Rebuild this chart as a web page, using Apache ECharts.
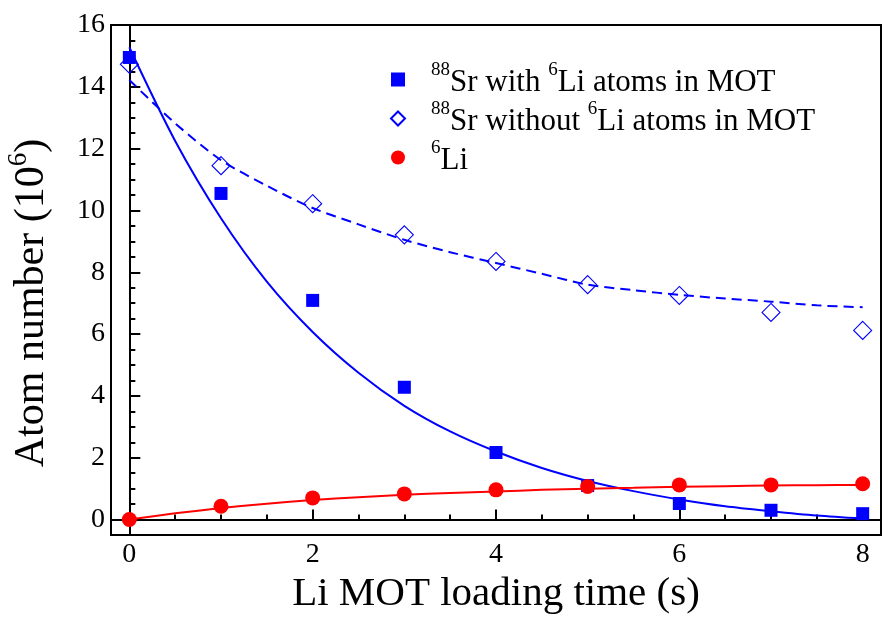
<!DOCTYPE html>
<html>
<head>
<meta charset="utf-8">
<script src="https://cdn.jsdelivr.net/npm/echarts@6/dist/echarts.min.js"></script>
<style>
  html, body { margin: 0; padding: 0; background: #fff; }
  #chart { width: 888px; height: 625px; }
</style>
</head>
<body>
<div id="chart"></div>
<script>
// ---- measured data points ----
const timeS = [0, 1, 2, 3, 4, 5, 6, 7, 8];
const srWithLi = [14.95, 10.55, 7.09, 4.28, 2.17, 1.1, 0.52, 0.3, 0.19];
const srWithoutLi = [14.73, 11.45, 10.22, 9.21, 8.35, 7.6, 7.25, 6.7, 6.12];
const liAtoms = [0.0, 0.43, 0.7, 0.83, 0.96, 1.07, 1.12, 1.12, 1.16];

// ---- fit curves, every 0.5 s ----
const fitTime = [0, 0.5, 1, 1.5, 2, 2.5, 3, 3.5, 4, 4.5, 5, 5.5, 6, 6.5, 7, 7.5, 8];
const fitWithLi = [15.28, 12.25, 9.75, 7.7, 6.07, 4.75, 3.68, 2.85, 2.2, 1.67, 1.25, 0.92, 0.65, 0.43, 0.27, 0.13, 0.03];
const fitWithoutLi = [14.22, 12.82, 11.63, 10.8, 10.08, 9.55, 9.05, 8.65, 8.3, 7.95, 7.6, 7.42, 7.27, 7.15, 7.05, 6.93, 6.87];
const fitLi = [0.0, 0.2, 0.37, 0.51, 0.63, 0.72, 0.8, 0.86, 0.91, 0.96, 1.0, 1.03, 1.06, 1.08, 1.1, 1.11, 1.12];

// ---- tick labels ----
const xMajorTicks = [0, 2, 4, 6, 8];
const xMinorTicks = [0.5, 1, 1.5, 2.5, 3, 3.5, 4.5, 5, 5.5, 6.5, 7, 7.5];
const yMajorTicks = [0, 2, 4, 6, 8, 10, 12, 14, 16];
const yMinorTicks = [0.5, 1, 1.5, 2.5, 3, 3.5, 4.5, 5, 5.5, 6.5, 7, 7.5, 8.5, 9, 9.5, 10.5, 11, 11.5, 12.5, 13, 13.5, 14.5, 15, 15.5];

const legendNames = ['srWith', 'srWithout', 'li'];
const legendLabels = {
  srWith: '{s|88}{n|Sr with }{s|6}{n|Li atoms in MOT}',
  srWithout: '{s|88}{n|Sr without }{s|6}{n|Li atoms in MOT}',
  li: '{s|6}{n|Li}'
};

const FONT = 'Liberation Serif';
const BLUE = '#0000ff';
const RED = '#ff0000';

const pairs = (xs, ys) => xs.map((x, i) => [x, ys[i]]);

const chart = echarts.init(document.getElementById('chart'), null, { renderer: 'canvas' });

const axisBase = {
  type: 'value',
  splitLine: { show: false }
};

const option = {
  animation: false,
  backgroundColor: '#fff',
  grid: {
    left: 111, right: 7, top: 25, bottom: 90,
    containLabel: false,
    outerBoundsMode: 'none',
    show: true, borderColor: '#000', borderWidth: 2
  },
  xAxis: [
    Object.assign({}, axisBase, {
      min: -0.2, max: 8.2,
      position: 'bottom',
      axisLine: { show: true, lineStyle: { color: '#000', width: 2 } },
      axisTick: { show: true, inside: true, length: 10, customValues: xMajorTicks, lineStyle: { color: '#000', width: 2 } },
      axisLabel: { show: true, customValues: xMajorTicks, margin: 6, fontFamily: FONT, fontSize: 28, color: '#000' },
      name: 'Li MOT loading time (s)',
      nameLocation: 'middle',
      nameGap: 36,
      nameTextStyle: { fontFamily: FONT, fontSize: 41, color: '#000' }
    }),
    Object.assign({}, axisBase, {
      min: -0.2, max: 8.2,
      position: 'bottom',
      axisLine: { show: false },
      axisTick: { show: true, inside: true, length: 5, customValues: xMinorTicks, lineStyle: { color: '#000', width: 2 } },
      axisLabel: { show: false }
    })
  ],
  yAxis: [
    Object.assign({}, axisBase, {
      min: -0.5, max: 16,
      position: 'left',
      axisLine: { show: true, lineStyle: { color: '#000', width: 2 } },
      axisTick: { show: true, inside: true, length: 11, customValues: yMajorTicks, lineStyle: { color: '#000', width: 2 } },
      axisLabel: { show: true, customValues: yMajorTicks, margin: 6, fontFamily: FONT, fontSize: 28, color: '#000' },
      name: '{n|Atom number (10}{s|6}{n|)}',
      nameLocation: 'middle',
      nameGap: 58,
      nameTextStyle: {
        color: '#000',
        padding: [0, 46, 0, 0],
        rich: {
          n: { fontFamily: FONT, fontSize: 42, color: '#000', lineHeight: 48, verticalAlign: 'bottom' },
          s: { fontFamily: FONT, fontSize: 27, color: '#000', lineHeight: 27, verticalAlign: 'top' }
        }
      }
    }),
    Object.assign({}, axisBase, {
      min: -0.5, max: 16,
      position: 'left',
      axisLine: { show: false },
      axisTick: { show: true, inside: true, length: 6, customValues: yMinorTicks, lineStyle: { color: '#000', width: 2 } },
      axisLabel: { show: false }
    })
  ],
  legend: {
    orient: 'vertical',
    left: 385,
    top: 56,
    itemWidth: 14,
    itemHeight: 14,
    itemGap: 2,
    data: [
      { name: 'srWith', icon: 'rect' },
      { name: 'srWithout', icon: 'diamond' },
      { name: 'li', icon: 'circle' }
    ],
    formatter: name => legendLabels[name],
    textStyle: {
      padding: [0, 0, 0, 21],
      rich: {
        n: { fontFamily: FONT, fontSize: 31, color: '#000', lineHeight: 37, verticalAlign: 'bottom' },
        s: { fontFamily: FONT, fontSize: 19, color: '#000', lineHeight: 19, verticalAlign: 'top' }
      }
    }
  },
  series: [
    {
      name: 'fitWithLi', type: 'line', smooth: 0.3, showSymbol: false, symbol: 'none',
      data: pairs(fitTime, fitWithLi),
      lineStyle: { color: BLUE, width: 2 }, z: 2
    },
    {
      name: 'fitWithoutLi', type: 'line', smooth: 0.3, showSymbol: false, symbol: 'none',
      data: pairs(fitTime, fitWithoutLi),
      lineStyle: { color: BLUE, width: 2, type: [10, 6] }, z: 2
    },
    {
      name: 'fitLi', type: 'line', smooth: 0.3, showSymbol: false, symbol: 'none',
      data: pairs(fitTime, fitLi),
      lineStyle: { color: RED, width: 2 }, z: 2
    },
    {
      name: 'srWith', type: 'scatter', symbol: 'rect', symbolSize: 13,
      data: pairs(timeS, srWithLi),
      itemStyle: { color: BLUE, opacity: 1 }, z: 3
    },
    {
      name: 'srWithout', type: 'scatter', symbol: 'diamond', symbolSize: 18,
      data: pairs(timeS, srWithoutLi),
      itemStyle: { color: 'rgba(255,255,255,0)', borderColor: BLUE, borderWidth: 1.1, opacity: 1 }, z: 3
    },
    {
      name: 'li', type: 'scatter', symbol: 'circle', symbolSize: 15,
      data: pairs(timeS, liAtoms),
      itemStyle: { color: RED, opacity: 1 }, z: 4
    }
  ]
};

chart.setOption(option);
</script>
</body>
</html>
